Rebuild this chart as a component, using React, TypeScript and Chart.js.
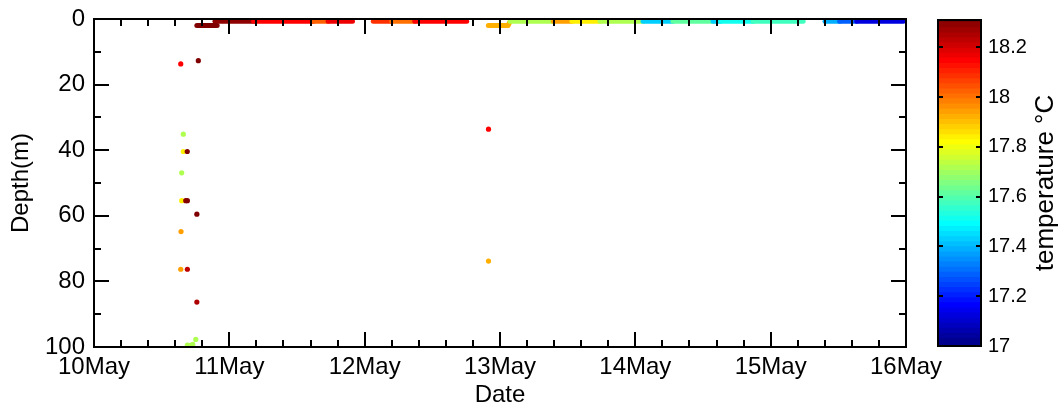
import React, { useEffect, useRef } from 'react';
import { Chart, registerables } from 'chart.js';

Chart.register(...registerables);

const FONT = "'Liberation Sans', Arial, Helvetica, sans-serif";

// ---- axes ----
const xTickDays = [10, 11, 12, 13, 14, 15, 16];
const yTickDepths = [0, 20, 40, 60, 80, 100];
const cbTicks = [17, 17.2, 17.4, 17.6, 17.8, 18, 18.2];
const C_MIN = 17;
const C_MAX = 18.31;

// ---- surface track (date in May, depth m, temperature °C) ----
const segATime = [10.76, 10.91];
const segADepth = [2.0, 2.0];
const segATemp = [18.3, 18.3];

const segBTime = [10.894, 11.18, 11.62, 11.73, 11.91];
const segBDepth = [0.7, 0.7, 0.7, 0.7, 0.7];
const segBTemp = [18.27, 18.14, 18.02, 18.15, 18.15];

const segCTime = [12.064, 12.2, 12.37, 12.754];
const segCDepth = [0.7, 0.7, 0.7, 0.7];
const segCTemp = [18.07, 17.99, 18.14, 18.14];

const segDTime = [12.914, 13.06, 13.075, 13.394, 13.532, 13.739, 14.057, 14.278, 14.574, 14.63, 14.87, 15.24];
const segDDepth = [2.0, 2.0, 0.7, 0.7, 0.7, 0.7, 0.7, 0.7, 0.7, 0.7, 0.7, 0.7];
const segDTemp = [17.92, 17.92, 17.71, 17.93, 17.82, 17.7, 17.41, 17.6, 17.41, 17.5, 17.57, 17.57];

const segETime = [15.402, 15.51, 15.636, 15.98];
const segEDepth = [0.7, 0.7, 0.7, 0.7];
const segETemp = [17.37, 17.28, 17.11, 17.11];

// ---- deeper samples ----
const deepTime = [10.641, 10.771, 10.66, 10.66, 10.689, 10.648, 10.648, 10.678, 10.69, 10.76, 10.643, 10.641, 10.69, 10.76, 10.69, 10.71, 10.73, 10.752, 12.915, 12.915];
const deepDepth = [13.7, 12.7, 35.1, 40.4, 40.4, 46.9, 55.4, 55.4, 55.4, 59.5, 64.8, 76.3, 76.3, 86.3, 99.4, 99.5, 99.2, 97.7, 33.6, 73.8];
const deepTemp = [18.14, 18.3, 17.7, 17.82, 18.3, 17.7, 17.83, 18.28, 18.3, 18.3, 17.93, 17.93, 18.22, 18.24, 17.7, 17.7, 17.7, 17.7, 18.14, 17.92];

const segments = [
  { time: segATime, depth: segADepth, temp: segATemp },
  { time: segBTime, depth: segBDepth, temp: segBTemp },
  { time: segCTime, depth: segCDepth, temp: segCTemp },
  { time: segDTime, depth: segDDepth, temp: segDTemp },
  { time: segETime, depth: segEDepth, temp: segETemp },
];

// MATLAB jet(64)
function u(j: number) {
  if (j < 1 || j > 47) return 0;
  if (j <= 16) return j / 16;
  if (j <= 31) return 1;
  return (48 - j) / 16;
}
function jetK(k: number) {
  const r = Math.round(u(k - 24) * 255);
  const g = Math.round(u(k - 8) * 255);
  const b = Math.round(u(k + 8) * 255);
  return `rgb(${r},${g},${b})`;
}
function jetColor(T: number) {
  let k = Math.floor(((T - C_MIN) / (C_MAX - C_MIN)) * 64) + 1;
  if (k < 1) k = 1;
  if (k > 64) k = 64;
  return jetK(k);
}

const mainPlugin = {
  id: 'mainAxesBox',
  afterDatasetsDraw(chart: any) {
    const { ctx, chartArea, scales } = chart;
    const { left, right, top, bottom } = chartArea;
    const xs = scales.x;
    const ys = scales.y;
    ctx.save();
    ctx.strokeStyle = '#000';
    ctx.lineWidth = 2;
    ctx.beginPath();
    const MAJ = 15;
    const MIN = 7;
    for (let d = 10; d <= 16.0001; d += 0.2) {
      const v = Math.round(d * 10) / 10;
      const isMaj = Math.abs(v - Math.round(v)) < 1e-6;
      const len = isMaj ? MAJ : MIN;
      const px = Math.round(xs.getPixelForValue(v));
      ctx.moveTo(px, bottom);
      ctx.lineTo(px, bottom - len);
      ctx.moveTo(px, top);
      ctx.lineTo(px, top + len);
    }
    for (let dep = 0; dep <= 100; dep += 10) {
      const isMaj = dep % 20 === 0;
      const len = isMaj ? MAJ : MIN;
      const py = Math.round(ys.getPixelForValue(dep));
      ctx.moveTo(left, py);
      ctx.lineTo(left + len, py);
      ctx.moveTo(right, py);
      ctx.lineTo(right - len, py);
    }
    ctx.stroke();
    ctx.strokeRect(left, top, right - left, bottom - top);
    ctx.restore();
  },
};

const cbPlugin = {
  id: 'colorbarBox',
  afterDatasetsDraw(chart: any) {
    const { ctx, chartArea, scales } = chart;
    const { left, right, top, bottom } = chartArea;
    const ys = scales.y;
    ctx.save();
    ctx.strokeStyle = '#000';
    ctx.lineWidth = 2;
    ctx.beginPath();
    cbTicks.forEach((v) => {
      const py = Math.round(ys.getPixelForValue(v));
      ctx.moveTo(left, py);
      ctx.lineTo(left + 5, py);
      ctx.moveTo(right, py);
      ctx.lineTo(right - 5, py);
    });
    ctx.stroke();
    ctx.strokeRect(left, top, right - left, bottom - top);
    ctx.translate(123, (top + bottom) / 2);
    ctx.rotate(-Math.PI / 2);
    ctx.fillStyle = '#000';
    ctx.font = `26px ${FONT}`;
    ctx.textAlign = 'center';
    ctx.textBaseline = 'alphabetic';
    ctx.fillText('temperature °C', 0, 0);
    ctx.restore();
  },
};

export default function App() {
  const mainRef = useRef<HTMLCanvasElement>(null);
  const cbRef = useRef<HTMLCanvasElement>(null);

  useEffect(() => {
    const surfaceSets = segments.map((seg) => ({
      type: 'line',
      data: seg.time.map((t, i) => ({ x: t, y: seg.depth[i] })),
      showLine: true,
      borderWidth: 5,
      borderCapStyle: 'round',
      borderJoinStyle: 'round',
      borderColor: jetColor(seg.temp[0]),
      segment: {
        borderColor: (ctx: any) => jetColor(seg.temp[ctx.p0DataIndex]),
      },
      pointRadius: 0,
      pointHoverRadius: 0,
      tension: 0,
      fill: false,
    }));

    const deepSet = {
      type: 'scatter',
      data: deepTime.map((t, i) => ({ x: t, y: deepDepth[i] })),
      showLine: false,
      pointRadius: 2.6,
      pointBorderWidth: 0,
      pointBackgroundColor: deepTemp.map(jetColor),
      pointBorderColor: deepTemp.map(jetColor),
    };

    const main = new Chart(mainRef.current as HTMLCanvasElement, {
      type: 'scatter',
      data: { datasets: [...surfaceSets, deepSet] as any },
      options: {
        responsive: false,
        animation: false,
        devicePixelRatio: 1,
        events: [],
        layout: { padding: { left: 0, right: 152, top: 19, bottom: 0 } },
        plugins: { legend: { display: false }, tooltip: { enabled: false } },
        scales: {
          x: {
            type: 'linear',
            position: 'bottom',
            min: 10,
            max: 16,
            afterBuildTicks: (s: any) => {
              s.ticks = xTickDays.map((v) => ({ value: v }));
            },
            afterFit: (s: any) => {
              s.height = 60;
              s.paddingLeft = 0;
              s.paddingRight = 0;
            },
            grid: { display: false, drawTicks: false },
            border: { display: false },
            ticks: {
              callback: (v: any) => `${v}May`,
              font: { family: FONT, size: 24 },
              color: '#000',
              padding: 6,
              maxRotation: 0,
              autoSkip: false,
            },
            title: {
              display: true,
              text: 'Date',
              font: { family: FONT, size: 24 },
              color: '#000',
              padding: { top: 0, bottom: -3 },
            },
          },
          y: {
            type: 'linear',
            reverse: true,
            min: 0,
            max: 100,
            afterBuildTicks: (s: any) => {
              s.ticks = yTickDepths.map((v) => ({ value: v }));
            },
            afterFit: (s: any) => {
              s.width = 94;
              s.paddingTop = 0;
              s.paddingBottom = 0;
            },
            grid: { display: false, drawTicks: false },
            border: { display: false },
            ticks: {
              font: { family: FONT, size: 24 },
              color: '#000',
              padding: 9,
            },
            title: {
              display: true,
              text: 'Depth(m)',
              font: { family: FONT, size: 24 },
              color: '#000',
              padding: { top: 7, bottom: 0 },
            },
          },
        },
      } as any,
      plugins: [mainPlugin],
    });

    const span = (C_MAX - C_MIN) / 64;
    const cbSets = Array.from({ length: 64 }, (_, i) => ({
      data: [[C_MIN + i * span, Math.min(C_MAX, C_MIN + (i + 1) * span + span * 0.5)]],
      backgroundColor: jetK(i + 1),
      borderWidth: 0,
      grouped: false,
      categoryPercentage: 1,
      barPercentage: 1,
    }));

    const cb = new Chart(cbRef.current as HTMLCanvasElement, {
      type: 'bar',
      data: { labels: [''], datasets: cbSets as any },
      options: {
        responsive: false,
        animation: false,
        devicePixelRatio: 1,
        events: [],
        layout: { padding: { left: 8, right: 0, top: 20, bottom: 61 } },
        plugins: { legend: { display: false }, tooltip: { enabled: false } },
        scales: {
          x: { display: false },
          y: {
            type: 'linear',
            position: 'right',
            min: C_MIN,
            max: C_MAX,
            afterBuildTicks: (s: any) => {
              s.ticks = cbTicks.map((v) => ({ value: v }));
            },
            afterFit: (s: any) => {
              s.width = 77;
              s.paddingTop = 0;
              s.paddingBottom = 0;
            },
            grid: { display: false, drawTicks: false },
            border: { display: false },
            ticks: {
              font: { family: FONT, size: 20 },
              color: '#000',
              padding: 7,
              callback: (v: any) => String(Math.round(Number(v) * 10) / 10),
            },
          },
        },
      } as any,
      plugins: [cbPlugin],
    });

    return () => {
      main.destroy();
      cb.destroy();
    };
  }, []);

  return (
    <div style={{ position: 'absolute', left: 0, top: 0, width: 1058, height: 407, background: '#fff', overflow: 'hidden' }}>
      <canvas ref={mainRef} width={1058} height={407} style={{ position: 'absolute', left: 0, top: 0 }} />
      <canvas ref={cbRef} width={128} height={407} style={{ position: 'absolute', left: 930, top: 0 }} />
    </div>
  );
}
